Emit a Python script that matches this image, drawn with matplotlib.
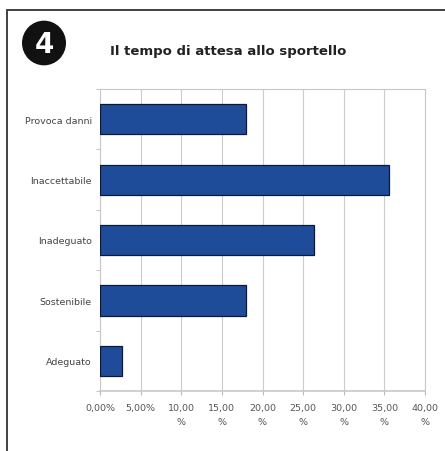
import matplotlib.pyplot as plt
from matplotlib.patches import Circle, Rectangle

categories = ['Adeguato', 'Sostenibile', 'Inadeguato', 'Inaccettabile', 'Provoca danni']
values = [2.7, 18.0, 26.3, 35.6, 18.0]
xticks = [0, 5, 10, 15, 20, 25, 30, 35, 40]
xtick_labels = ['0,00%', '5,00%', '10,00\n%', '15,00\n%', '20,00\n%',
                '25,00\n%', '30,00\n%', '35,00\n%', '40,00\n%']
title = 'Il tempo di attesa allo sportello'
badge = '4'

fig = plt.figure(figsize=(4.45, 4.52), dpi=100)
fig.patch.set_facecolor('white')

# outer frame, runs off the right and bottom edges
fig.patches.append(Rectangle((7 / 445, -0.05), 1.0, 1 - 11 / 452 + 0.05,
                             transform=fig.transFigure, fill=False,
                             edgecolor='#333333', linewidth=1.3))

# number badge
fig.patches.append(Circle((44 / 445, 1 - 44 / 452), 22 / 445,
                          transform=fig.transFigure, facecolor='#111111',
                          edgecolor='none'))
fig.text(44 / 445, 1 - 45 / 452, badge, color='white', fontsize=20,
         fontweight='bold', ha='center', va='center', family='DejaVu Sans')

fig.text(110 / 445, 1 - 52 / 452, title, fontsize=9.5, fontweight='bold',
         color='#222222', ha='left', va='center')

ax = fig.add_axes([100 / 445, 1 - 392 / 452, 325 / 445, 302 / 452])
ax.barh(range(len(categories)), values, height=0.5, color='#1f4c98',
        edgecolor='#0c1a38', linewidth=0.9, zorder=3)

ax.set_xlim(0, 40)
ax.set_ylim(-0.5, len(categories) - 0.5)
ax.set_xticks(xticks)
ax.set_xticklabels(xtick_labels, fontsize=6.8, color='#555555', linespacing=1.6)
ax.set_yticks(range(len(categories)))
ax.set_yticklabels(categories, fontsize=6.8, color='#444444')
ax.tick_params(axis='y', length=0, pad=6)
ax.tick_params(axis='x', length=3, color='#bbbbbb', pad=6)
ax.set_yticks([i + 0.5 for i in range(-1, len(categories))], minor=True)
ax.tick_params(axis='y', which='minor', length=3, color='#bbbbbb')

ax.grid(axis='x', color='#cccccc', linewidth=0.8, zorder=0)
for side in ['top', 'right', 'left', 'bottom']:
    ax.spines[side].set_color('#c8c8c8')
ax.spines['bottom'].set_linewidth(1.2)

fig.savefig('out.png', dpi=100)
